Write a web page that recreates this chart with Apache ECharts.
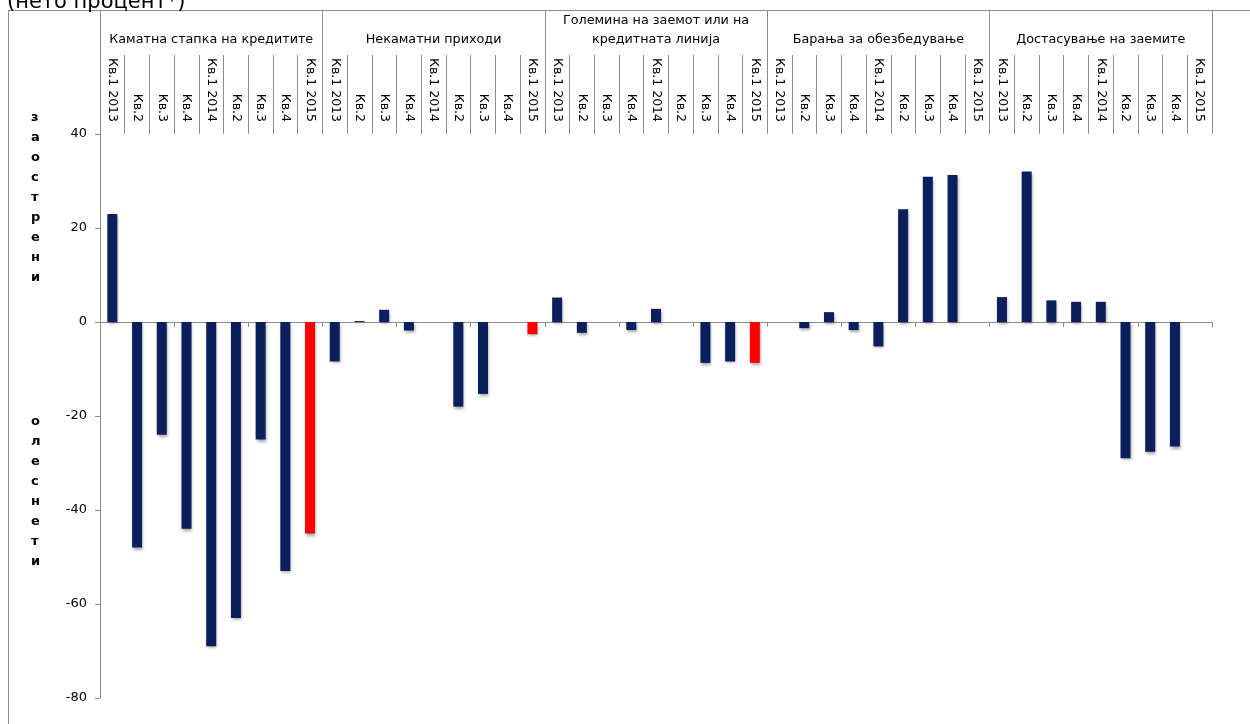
<!DOCTYPE html>
<html>
<head>
<meta charset="utf-8">
<script src="https://cdn.jsdelivr.net/npm/echarts@6/dist/echarts.min.js"></script>
<style>
  html, body { margin: 0; padding: 0; background: #fff; }
  #chart { width: 1250px; height: 724px; }
</style>
</head>
<body>
<div id="chart"></div>
<script>
// Quarters shown within each factor group
const quarters = ['Кв.1 2013', 'Кв.2', 'Кв.3', 'Кв.4', 'Кв.1 2014', 'Кв.2', 'Кв.3', 'Кв.4', 'Кв.1 2015'];

// Factor groups (upper header row)
const groups = [
  'Каматна стапка на кредитите',
  'Некаматни приходи',
  'Големина на заемот или на\nкредитната линија',
  'Барања за обезбедување',
  'Достасување на заемите'
];

// Net percentage per quarter, one array per factor
const interestRate = [23, -48, -24, -44, -69, -63, -25, -53, -45];
const nonInterestCharges = [-8.4, 0.2, 2.6, -1.8, 0, -18, -15.3, 0, -2.6];
const loanSize = [5.2, -2.3, 0, -1.7, 2.8, 0, -8.7, -8.4, -8.7];
const collateral = [0, -1.3, 2.1, -1.7, -5.2, 24, 30.9, 31.3, 0];
const maturity = [5.3, 32, 4.6, 4.3, 4.3, -29, -27.6, -26.5, 0];

// Value axis range
const yMin = -80, yMax = 40, yStep = 20;

const seriesByGroup = [interestRate, nonInterestCharges, loanSize, collateral, maturity];
const allQuarters = [].concat(...groups.map(() => quarters));
const allValues = [].concat(...seriesByGroup);

const NAVY = '#0b1f5c';
const RED = '#ff0000';
const GRAY = '#8c8c8c';
const FONT = 'DejaVu Sans';

const chart = echarts.init(document.getElementById('chart'), null, { renderer: 'canvas' });

chart.setOption({
  animation: false,
  backgroundColor: '#fff',
  title: {
    text: '(нето процент*)',
    left: 2,
    top: -13,
    textStyle: { fontFamily: FONT, fontSize: 21, fontWeight: 'normal', color: '#000' }
  },
  grid: { left: 100, top: 134, width: 1112, height: 564, containLabel: false },
  xAxis: [
    {
      // axis line through zero with boundary ticks
      type: 'category',
      data: allQuarters,
      position: 'bottom',
      axisLine: { onZero: true, lineStyle: { color: GRAY, width: 1 } },
      axisTick: { show: true, length: 5, lineStyle: { color: GRAY } },
      axisLabel: { show: false },
      splitLine: { show: false }
    },
    {
      // rotated quarter labels in the header, reading upwards
      type: 'category',
      data: allQuarters,
      position: 'top',
      axisLine: { show: false, onZero: false },
      axisTick: { show: true, length: 79, lineStyle: { color: GRAY } },
      axisLabel: {
        interval: 0, rotate: 90, margin: 12,
        fontFamily: FONT, fontSize: 12.5, color: '#000'
      },
      splitLine: { show: false }
    },
    {
      // factor group labels with full-height separators
      type: 'category',
      data: groups,
      position: 'top',
      axisLine: { show: false, onZero: false },
      axisTick: { show: true, length: 124, lineStyle: { color: GRAY } },
      axisLabel: {
        interval: 0, margin: 85, lineHeight: 19,
        fontFamily: FONT, fontSize: 12.75, color: '#000', align: 'center'
      },
      splitLine: { show: false }
    }
  ],
  yAxis: {
    type: 'value',
    min: yMin,
    max: yMax,
    interval: yStep,
    axisLine: { show: true, lineStyle: { color: GRAY, width: 1 } },
    axisTick: { show: true, length: 5, lineStyle: { color: GRAY } },
    axisLabel: { margin: 13, fontFamily: FONT, fontSize: 13, color: '#000' },
    splitLine: { show: false }
  },
  series: [{
    type: 'bar',
    xAxisIndex: 0,
    data: allValues,
    barWidth: 10,
    itemStyle: {
      color: (p) => (p.dataIndex % quarters.length === quarters.length - 1 ? RED : NAVY),
      shadowBlur: 3,
      shadowOffsetX: 1,
      shadowOffsetY: 2,
      shadowColor: 'rgba(0,0,0,0.35)'
    }
  }],
  graphic: [
    { type: 'line', shape: { x1: 8, y1: 10.5, x2: 1250, y2: 10.5 }, style: { stroke: GRAY, lineWidth: 1 } },
    { type: 'line', shape: { x1: 8.5, y1: 10, x2: 8.5, y2: 724 }, style: { stroke: GRAY, lineWidth: 1 } },
    {
      type: 'text', left: 31, top: 108,
      style: { text: 'з\nа\nо\nс\nт\nр\nе\nн\nи', font: 'bold 13px "DejaVu Sans"', lineHeight: 20, fill: '#000', align: 'center' }
    },
    {
      type: 'text', left: 31, top: 412,
      style: { text: 'о\nл\nе\nс\nн\nе\nт\nи', font: 'bold 13px "DejaVu Sans"', lineHeight: 20, fill: '#000', align: 'center' }
    }
  ]
});
</script>
</body>
</html>
